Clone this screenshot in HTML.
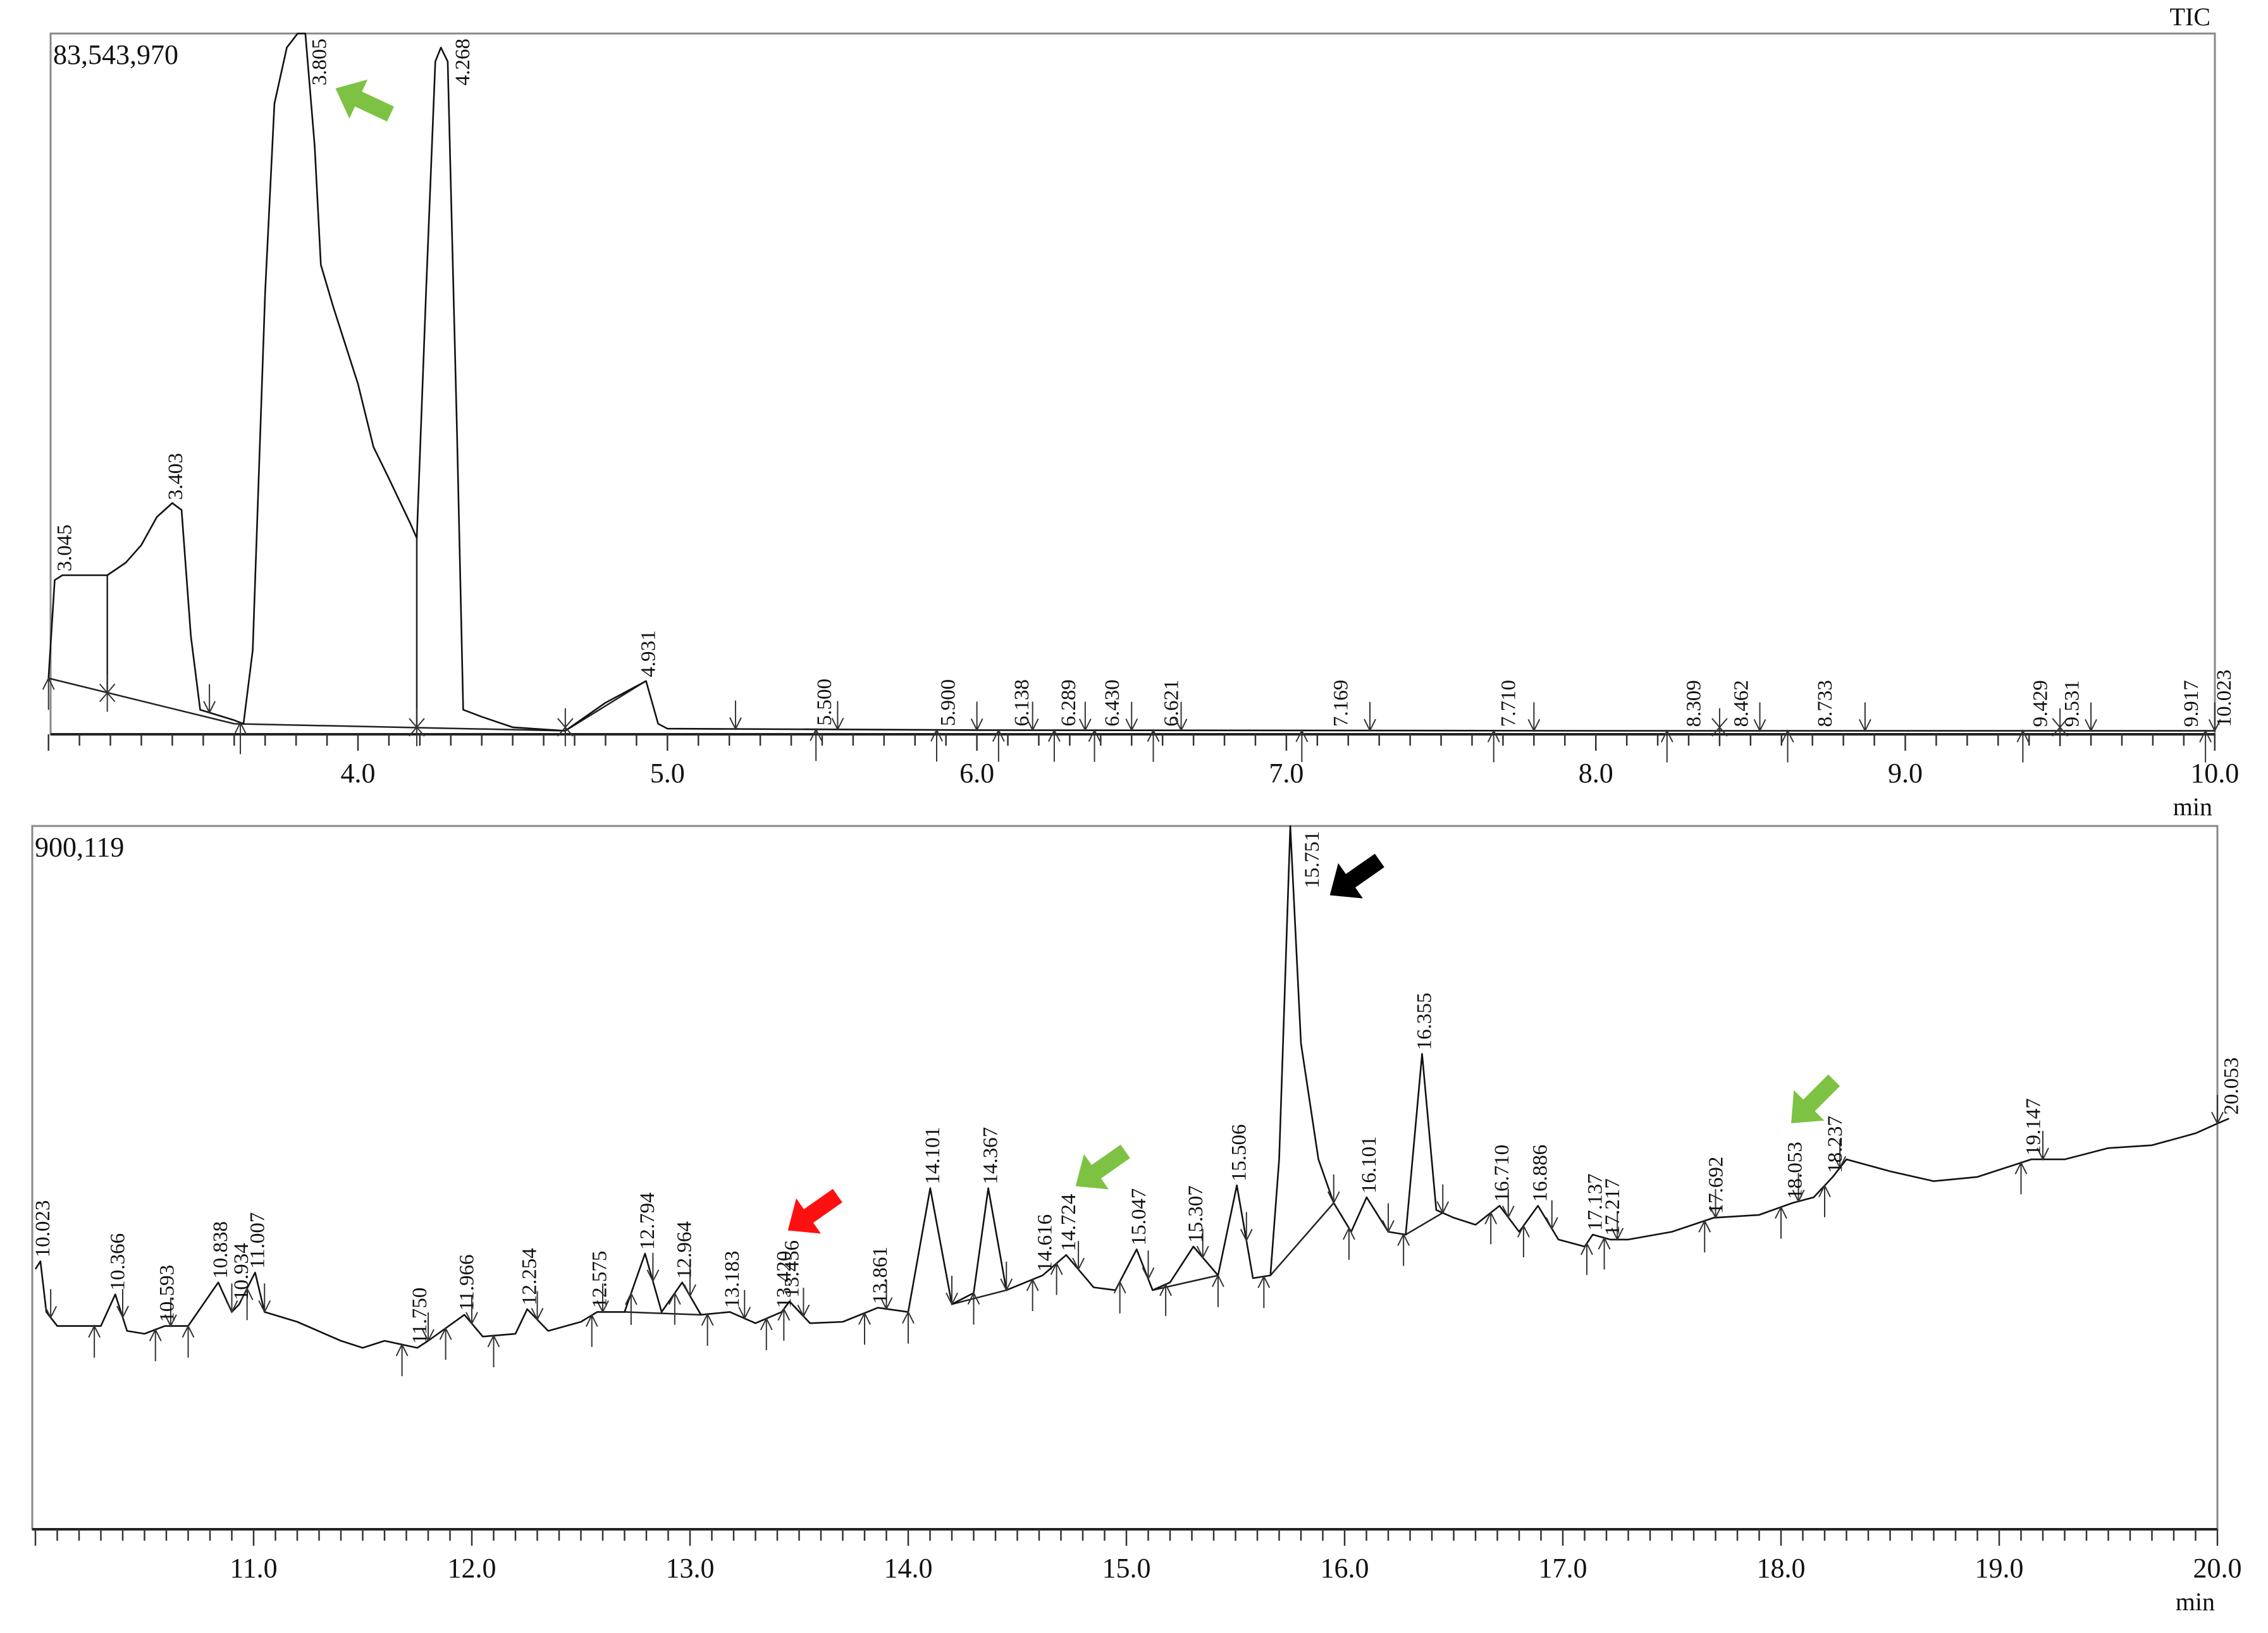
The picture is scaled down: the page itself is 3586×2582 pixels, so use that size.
<!DOCTYPE html>
<html><head><meta charset="utf-8">
<style>
html,body{margin:0;padding:0;background:#fff;}
svg{display:block;}
text{font-family:"Liberation Serif",serif;fill:#111;}
</style></head>
<body>
<svg id="chart" width="3586" height="2582" viewBox="0 0 3586 2582" xmlns="http://www.w3.org/2000/svg">
<g id="top"></g>
<g id="bot"></g>
</svg>
<script>
// ---- Top panel data (time min, % of 83,543,970) ----
const topTimes = [3.0,3.02,3.045,3.19,3.25,3.3,3.35,3.40,3.43,3.46,3.49,3.6,3.63,3.66,3.70,3.73,3.77,3.805,3.83,3.86,3.88,3.92,4.0,4.05,4.1,4.17,4.19,4.22,4.25,4.268,4.29,4.32,4.34,4.4,4.5,4.67,4.8,4.931,4.97,5.0,6.0,8.0,10.0];
const topValues = [8,22,22.7,22.7,24.5,27,31,33,32,14,3.5,2,1.5,12,63,90,98,100,100,84,67,61,50,41,36.5,30,28,63,96,98,96,43,3.5,2.5,1,0.5,4.5,7.6,1.5,0.8,0.6,0.5,0.5];
const topLabels = ["3.045","3.403","3.805","4.268","4.931","5.500","5.900","6.138","6.289","6.430","6.621","7.169","7.710","8.309","8.462","8.733","9.429","9.531","9.917","10.023"];
const topLabelTimes = [3.045,3.403,3.805,4.268,4.931,5.500,5.900,6.138,6.289,6.430,6.621,7.169,7.710,8.309,8.462,8.733,9.429,9.531,9.917,10.023];
const topTicks = ["4.0","5.0","6.0","7.0","8.0","9.0","10.0"];
const topTickVals = [4,5,6,7,8,9,10];
const topMarkUp = [3.0,3.62,5.48,5.87,6.07,6.25,6.38,6.57,7.05,7.67,8.23,8.62,9.38,9.97];
const topMarkDown = [3.52,5.22,5.55,6.0,6.18,6.35,6.5,6.66,7.27,7.8,8.53,8.87,9.6,10.0];
const topMarkX = [3.19,4.19,4.67,8.4,9.5];

// ---- Bottom panel data (time min, % of 900,119) ----
const botTimes = [10.0,10.023,10.05,10.1,10.2,10.3,10.366,10.42,10.5,10.593,10.7,10.8,10.838,10.9,10.934,11.0,11.007,11.05,11.2,11.4,11.5,11.6,11.75,11.8,11.966,12.05,12.2,12.254,12.35,12.5,12.575,12.7,12.794,12.87,12.964,13.05,13.183,13.3,13.42,13.456,13.55,13.7,13.861,14.0,14.101,14.2,14.3,14.367,14.45,14.616,14.724,14.85,14.95,15.047,15.12,15.2,15.307,15.42,15.506,15.58,15.66,15.70,15.751,15.8,15.88,15.95,16.03,16.101,16.2,16.28,16.355,16.42,16.5,16.6,16.71,16.8,16.886,16.98,17.1,17.137,17.217,17.3,17.5,17.692,17.9,18.053,18.15,18.237,18.3,18.5,18.7,18.9,19.147,19.3,19.5,19.7,19.9,20.0,20.053];
const botValues = [37,38.1,30.9,28.9,28.9,28.9,33.4,28.2,27.8,28.9,28.9,33.4,35.1,30.9,32,36.1,36.5,30.9,29.5,26.8,25.8,26.8,25.8,26.8,30.5,27.4,27.8,31.3,28.2,29.5,30.9,30.9,39.2,30.9,35.1,30.5,30.9,29.3,30.9,32.4,29.3,29.5,31.5,30.9,48.5,32,33.6,48.5,34,36.1,39,34.4,34,39.8,34,35.1,40.2,36.1,48.9,35.7,36.1,52.6,100,69.1,52.6,46.4,42.3,47.2,42.3,41.9,67.6,45.4,44.3,43.3,46,42.3,46,41.2,40.2,41.9,41.2,41.2,42.3,44.3,44.7,46.4,47.2,50.1,52.6,50.9,49.5,50.1,52.6,52.6,54.2,54.6,56.3,57.7,58.4];
const botLabels = ["10.023","10.366","10.593","10.838","10.934","11.007","11.750","11.966","12.254","12.575","12.794","12.964","13.183","13.420","13.456","13.861","14.101","14.367","14.616","14.724","15.047","15.307","15.506","15.751","16.101","16.355","16.710","16.886","17.137","17.217","17.692","18.053","18.237","19.147","20.053"];
const botLabelTimes = [10.023,10.366,10.593,10.838,10.934,11.007,11.750,11.966,12.254,12.575,12.794,12.964,13.183,13.420,13.456,13.861,14.101,14.367,14.616,14.724,15.047,15.307,15.506,15.751,16.101,16.355,16.710,16.886,17.137,17.217,17.692,18.053,18.237,19.147,20.053];
const botTicks = ["11.0","12.0","13.0","14.0","15.0","16.0","17.0","18.0","19.0","20.0"];
const botTickVals = [11,12,13,14,15,16,17,18,19,20];
const botMarkUp = [10.27,10.55,10.7,10.97,11.68,11.88,12.1,12.55,12.73,12.93,13.08,13.35,13.43,13.8,14.0,14.3,14.57,14.68,14.97,15.18,15.42,15.63,16.02,16.27,16.67,16.82,17.11,17.19,17.65,18.0,18.2,19.1];
const botMarkDown = [10.07,10.4,10.62,10.9,11.05,11.8,12.0,12.3,12.6,12.83,13.0,13.25,13.52,13.9,14.2,14.45,14.78,15.1,15.35,15.55,15.95,16.2,16.45,16.75,16.95,17.25,17.7,18.08,18.27,19.2,20.0];

const NS = "http://www.w3.org/2000/svg";
function mk(parent, tag, attrs) {
  const e = document.createElementNS(NS, tag);
  for (const k in attrs) e.setAttribute(k, attrs[k]);
  parent.appendChild(e);
  return e;
}
function interp(ts, vs, t) {
  if (t <= ts[0]) return vs[0];
  for (let i = 1; i < ts.length; i++) if (t <= ts[i]) {
    const f = (t - ts[i-1]) / (ts[i] - ts[i-1]);
    return vs[i-1] + f * (vs[i] - vs[i-1]);
  }
  return vs[vs.length-1];
}

function panel(g, cfg) {
  const {x0, x1, y0, y1, tmin, tmax, axisT0, axisPx0, pxPerMin} = cfg;
  const X = t => axisPx0 + (t - axisT0) * pxPerMin;
  const Y = p => y1 - p / 100 * (y1 - y0);
  const fr = mk(g, "rect", {x:x0, y:y0, width:x1-x0, height:y1-y0, fill:"none", stroke:"#888", "stroke-width":3});
  
  
  const ax = mk(g, "line", {x1:x0, y1:y1, x2:x1, y2:y1, stroke:"#222", "stroke-width":4});
  
  
  for (let k = Math.ceil(tmin*10); k <= Math.floor(tmax*10); k++) {
    const t = k / 10, xx = X(t);
    const tk = mk(g, "line", {x1:xx, y1:y1, x2:xx, y2:y1 + (k % 10 === 0 ? 26 : 18), stroke:"#333", "stroke-width":2.5});
    
    
  }
  cfg.ticks.forEach((lab, i) => {
    const tx = mk(g, "text", {x:X(cfg.tickVals[i]), y:y1+76, "font-size":44, "text-anchor":"middle"});
    tx.textContent = lab;
    
    
  });
  const mn = mk(g, "text", {x:x1-4, y:y1+128, "font-size":40, "text-anchor":"end"});
  mn.textContent = "min";
  
  
  const sc = mk(g, "text", {x:x0+4, y:y0+48, "font-size":44});
  sc.textContent = cfg.scale;
  
  
  (cfg.baselines || []).forEach(b => {
    const bl = mk(g, "line", {x1:X(b[0]), y1:Y(b[1]), x2:X(b[2]), y2:Y(b[3]), stroke:"#222", "stroke-width":2.5});
    
    
  });
  let d = "";
  cfg.times.forEach((t, i) => { d += (i ? "L" : "M") + X(t).toFixed(1) + "," + Y(cfg.values[i]).toFixed(1); });
  const tr = mk(g, "path", {d:d, fill:"none", stroke:"#111", "stroke-width":2.6, "stroke-linejoin":"round"});
  
  
  const baseAt = t => Y(interp(cfg.times, cfg.values, t));
  cfg.up.forEach(t => {
    const xx = X(t), yy = baseAt(t);
    const m = mk(g, "path", {d:`M${xx},${yy+50}L${xx},${yy}M${xx-9},${yy+18}L${xx},${yy}L${xx+9},${yy+18}`, stroke:"#333", "stroke-width":2, fill:"none"});
    
    
  });
  cfg.down.forEach(t => {
    const xx = X(t), yy = baseAt(t);
    const m = mk(g, "path", {d:`M${xx},${yy-45}L${xx},${yy}M${xx-9},${yy-18}L${xx},${yy}L${xx+9},${yy-18}`, stroke:"#333", "stroke-width":2, fill:"none"});
    
    
  });
  (cfg.xs || []).forEach(t => {
    const xx = X(t), yy = Y(cfg.xBase(t));
    const m = mk(g, "path", {d:`M${xx},${yy-30}L${xx},${yy+30}M${xx-12},${yy-14}L${xx},${yy}L${xx+12},${yy-14}M${xx-12},${yy+14}L${xx},${yy}L${xx+12},${yy+14}`, stroke:"#333", "stroke-width":2, fill:"none"});
    
    
  });
  cfg.labels.forEach((lab, i) => {
    const t = cfg.labelTimes[i];
    const p = Math.min(interp(cfg.times, cfg.values, t), 100);
    const big = p >= 97;
    const xx = X(t) + (big ? 45 : 14), yy = Math.max(Y(p) - 6, y0 + 100);
    const tx = mk(g, "text", {x:0, y:0, "font-size":33, transform:`translate(${xx},${big ? y0 + 8 : yy}) rotate(-90)`, "text-anchor": big ? "end" : "start"});
    tx.textContent = lab;
    
    
  });
  return {X, Y};
}

const topG = document.getElementById("top");
panel(topG, {name:"top", x0:80, x1:3502, y0:53, y1:1161, tmin:3.0, tmax:10.0, axisT0:4, axisPx0:566, pxPerMin:489.3,
  times:topTimes, values:topValues, labels:topLabels, labelTimes:topLabelTimes, ticks:topTicks, tickVals:topTickVals,
  scale:"83,543,970", up:topMarkUp, down:topMarkDown, xs:topMarkX,
  xBase: t => t < 3.6 ? 8 - (t-3)*11 : 1,
  baselines:[[3.0,8,3.6,1.5],[3.6,1.5,4.67,0.5],[3.19,22.7,3.19,5.9],[4.19,28,4.19,0.9],[4.67,0.5,4.93,7.6]]});
const tic = mk(topG, "text", {x:3495, y:40, "font-size":40, "text-anchor":"end"});
tic.textContent = "TIC";



const botG = document.getElementById("bot");
panel(botG, {name:"bottom", x0:51, x1:3506, y0:1306, y1:2418, tmin:10.0, tmax:20.0, axisT0:11, axisPx0:401, pxPerMin:345,
  times:botTimes, values:botValues, labels:botLabels, labelTimes:botLabelTimes, ticks:botTicks, tickVals:botTickVals,
  scale:"900,119", up:botMarkUp, down:botMarkDown,
  baselines:[[15.66,36.1,15.95,46.4],[16.28,41.9,16.45,45],[14.2,32,14.45,34],[15.12,34,15.42,36.1],[12.7,30.9,13.05,30.5]]});

function arrow(cx, cy, ang, color, name) {
  const g = mk(document.getElementById("chart"), "g", {transform:`translate(${cx},${cy}) rotate(${ang})`});
  
  
  mk(g, "polygon", {points:"-48,0 -8,-34 -8,-13 48,-13 48,13 -8,13 -8,34", fill:color});
}
arrow(574, 160, 25, "#7dc242", "green-arrow-3805");
arrow(2142, 1388, -35, "#000", "black-arrow-15751");
arrow(1285, 1918, -35, "#ff1010", "red-arrow-13456");
arrow(1740, 1848, -35, "#7dc242", "green-arrow-14724");
arrow(2866, 1742, -45, "#7dc242", "green-arrow-18053");
</script>
</body></html>
